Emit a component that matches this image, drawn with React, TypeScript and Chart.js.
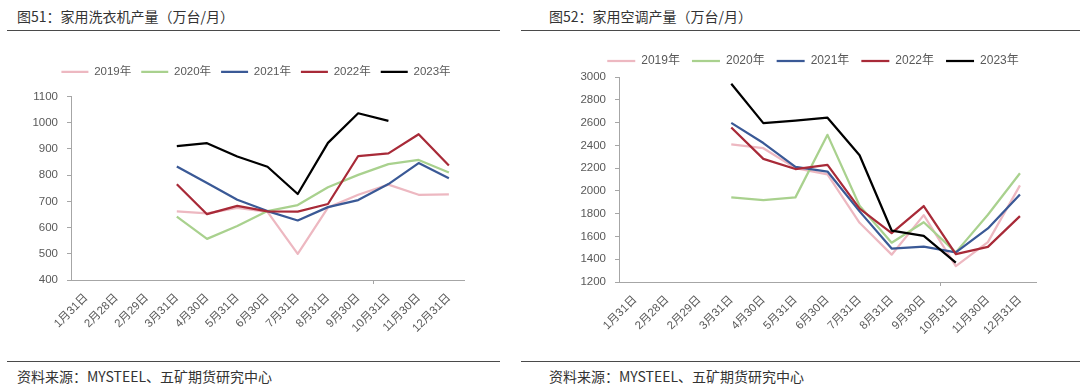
import React, { useEffect, useRef } from "react";
import { Chart, registerables } from "chart.js";

Chart.register(...registerables);

// ---------- data ----------
const categories = [
  "1月31日", "2月28日", "2月29日", "3月31日", "4月30日", "5月31日", "6月30日",
  "7月31日", "8月31日", "9月30日", "10月31日", "11月30日", "12月31日",
];
const seriesNames = ["2019年", "2020年", "2021年", "2022年", "2023年"];
const seriesColors = ["#EDB8C1", "#A9D18E", "#3A5996", "#A82A38", "#000000"];

// 图51 家用洗衣机产量（万台/月）
const washer2019 = [null, null, null, 662, 654, 675, 660, 500, 676, 725, 764, 725, 727];
const washer2020 = [null, null, null, 642, 557, 606, 663, 686, 754, 801, 842, 858, 810];
const washer2021 = [null, null, null, 833, 770, 706, 663, 627, 678, 705, 766, 846, 788];
const washer2022 = [null, null, null, 765, 651, 683, 662, 661, 690, 873, 883, 956, 837];
const washer2023 = [null, null, null, 911, 922, 871, 832, 728, 923, 1036, 1007, null, null];
const washerAxis = [400, 1100, 100];

// 图52 家用空调产量（万台/月）
const ac2019 = [null, null, null, 2408, 2375, 2200, 2145, 1720, 1440, 1787, 1340, 1550, 2048];
const ac2020 = [null, null, null, 1943, 1918, 1943, 2492, 1870, 1545, 1725, 1460, 1790, 2155];
const ac2021 = [null, null, null, 2597, 2420, 2210, 2170, 1820, 1494, 1510, 1460, 1670, 1968];
const ac2022 = [null, null, null, 2557, 2281, 2192, 2228, 1845, 1630, 1867, 1444, 1508, 1778];
const ac2023 = [null, null, null, 2940, 2595, 2617, 2643, 2313, 1652, 1605, 1371, null, null];
const acAxis = [1200, 3000, 200];

const AXIS_COLOR = "#A6A6A6";
const TICK_COLOR = "#595959";
const TICK_FONT = "'Liberation Sans', 'Noto Sans CJK SC', sans-serif";
const CJK_FONT = "'Noto Sans CJK SC', 'Noto Sans', sans-serif";

type Geo = {
  left: number; top: number; width: number; height: number;
  yAxisW: number; rightW: number; padTop: number; legendExtra: number; xAxisH: number;
  legendFont: number; legendPad: number; legendLine: number;
};

function LineChart({ series, axis, geo }: { series: (number | null)[][]; axis: number[]; geo: Geo }) {
  const ref = useRef<HTMLCanvasElement | null>(null);
  useEffect(() => {
    if (!ref.current) return;
    const legendGap = {
      id: "legendGap",
      beforeLayout(chart: any) {
        const lg = chart.legend;
        if (lg && !lg._gapPatched) {
          const orig = lg.fit;
          lg.fit = function () {
            orig.call(this);
            this.height += geo.legendExtra;
          };
          lg._gapPatched = true;
        }
      },
    };
    const oddTick = {
      id: "oddTick",
      afterDraw(chart: any) {
        const x = chart.scales.x;
        const px = (x.getPixelForValue(9) + x.getPixelForValue(10)) / 2;
        const c = chart.ctx;
        c.save();
        c.strokeStyle = AXIS_COLOR;
        c.lineWidth = 1;
        c.beginPath();
        c.moveTo(Math.round(px) + 0.5, x.top);
        c.lineTo(Math.round(px) + 0.5, x.top + 4);
        c.stroke();
        c.restore();
      },
    };
    const chart = new Chart(ref.current, {
      type: "line",
      data: {
        labels: categories,
        datasets: series.map((d, i) => ({
          label: seriesNames[i],
          data: d,
          borderColor: seriesColors[i],
          backgroundColor: seriesColors[i],
          borderWidth: 2.25,
          pointRadius: 0,
          pointHoverRadius: 0,
          tension: 0,
          borderJoinStyle: "round" as const,
          spanGaps: false,
          order: series.length - i,
          yAxisID: "y",
        })),
      },
      options: {
        animation: false,
        responsive: false,
        devicePixelRatio: 1,
        layout: { padding: { top: geo.padTop, left: 0, right: 0, bottom: 0 } },
        plugins: {
          tooltip: { enabled: false },
          legend: {
            display: true,
            position: "top",
            labels: {
              usePointStyle: true,
              pointStyle: "line",
              pointStyleWidth: geo.legendLine,
              padding: geo.legendPad,
              color: TICK_COLOR,
              font: { size: geo.legendFont, family: TICK_FONT },
              sort: (a: any, b: any) => a.datasetIndex - b.datasetIndex,
            },
          },
        },
        scales: {
          x: {
            type: "category",
            offset: true,
            grid: { display: false },
            border: { display: true, color: AXIS_COLOR, width: 1 },
            ticks: {
              autoSkip: false,
              minRotation: 45,
              maxRotation: 45,
              color: TICK_COLOR,
              padding: 3,
              font: { size: 11.5, family: TICK_FONT },
            },
            afterFit: (s: any) => { s.height = geo.xAxisH; },
          },
          y: {
            type: "linear",
            position: "left",
            min: axis[0],
            max: axis[1],
            ticks: {
              stepSize: axis[2],
              color: TICK_COLOR,
              padding: 9,
              font: { size: 11.5, family: TICK_FONT },
              callback: (v: any) => String(v),
            },
            grid: { display: true, drawOnChartArea: false, drawTicks: true, tickLength: 4, color: AXIS_COLOR },
            border: { display: true, color: AXIS_COLOR, width: 1 },
            afterFit: (s: any) => { s.width = geo.yAxisW; },
          },
          y2: {
            type: "linear",
            position: "right",
            display: true,
            ticks: { display: false },
            grid: { display: false },
            border: { display: false },
            afterFit: (s: any) => { s.width = geo.rightW; },
          },
        },
      } as any,
      plugins: [legendGap, oddTick],
    });
    return () => chart.destroy();
  }, []);
  return (
    <canvas
      ref={ref}
      width={geo.width}
      height={geo.height}
      style={{ position: "absolute", left: geo.left, top: geo.top, width: geo.width, height: geo.height }}
    />
  );
}

function Panel({ title, source, textLeft, ruleLeft, ruleWidth, series, axis, geo }: any) {
  const textStyle: React.CSSProperties = {
    position: "absolute",
    left: textLeft,
    fontFamily: CJK_FONT,
    fontSize: 14,
    lineHeight: "20px",
    color: "#333333",
    whiteSpace: "nowrap",
  };
  return (
    <>
      <div style={{ ...textStyle, top: 6 }}>{title}</div>
      <div style={{ position: "absolute", left: ruleLeft, top: 30, width: ruleWidth, height: 1, background: "#4a4a4a" }} />
      <LineChart series={series} axis={axis} geo={geo} />
      <div style={{ position: "absolute", left: ruleLeft, top: 361, width: ruleWidth, height: 1, background: "#4a4a4a" }} />
      <div style={{ ...textStyle, top: 366 }}>{source}</div>
    </>
  );
}

export default function App() {
  const leftGeo: Geo = {
    left: 0, top: 40, width: 512, height: 300,
    yAxisW: 71, rightW: 48, padTop: 16, legendExtra: 9, xAxisH: 60,
    legendFont: 11.5, legendPad: 10, legendLine: 27,
  };
  const rightGeo: Geo = {
    left: 546, top: 40, width: 534, height: 300,
    yAxisW: 73, rightW: 44, padTop: 3, legendExtra: 0, xAxisH: 58,
    legendFont: 12, legendPad: 12, legendLine: 28,
  };
  return (
    <div style={{ position: "absolute", left: 0, top: 0, width: 1080, height: 391, overflow: "hidden", background: "#ffffff" }}>
      <Panel
        title="图51：家用洗衣机产量（万台/月）"
        source="资料来源：MYSTEEL、五矿期货研究中心"
        textLeft={17}
        ruleLeft={7}
        ruleWidth={493}
        series={[washer2019, washer2020, washer2021, washer2022, washer2023]}
        axis={washerAxis}
        geo={leftGeo}
      />
      <Panel
        title="图52：家用空调产量（万台/月）"
        source="资料来源：MYSTEEL、五矿期货研究中心"
        textLeft={549}
        ruleLeft={521}
        ruleWidth={559}
        series={[ac2019, ac2020, ac2021, ac2022, ac2023]}
        axis={acAxis}
        geo={rightGeo}
      />
    </div>
  );
}
